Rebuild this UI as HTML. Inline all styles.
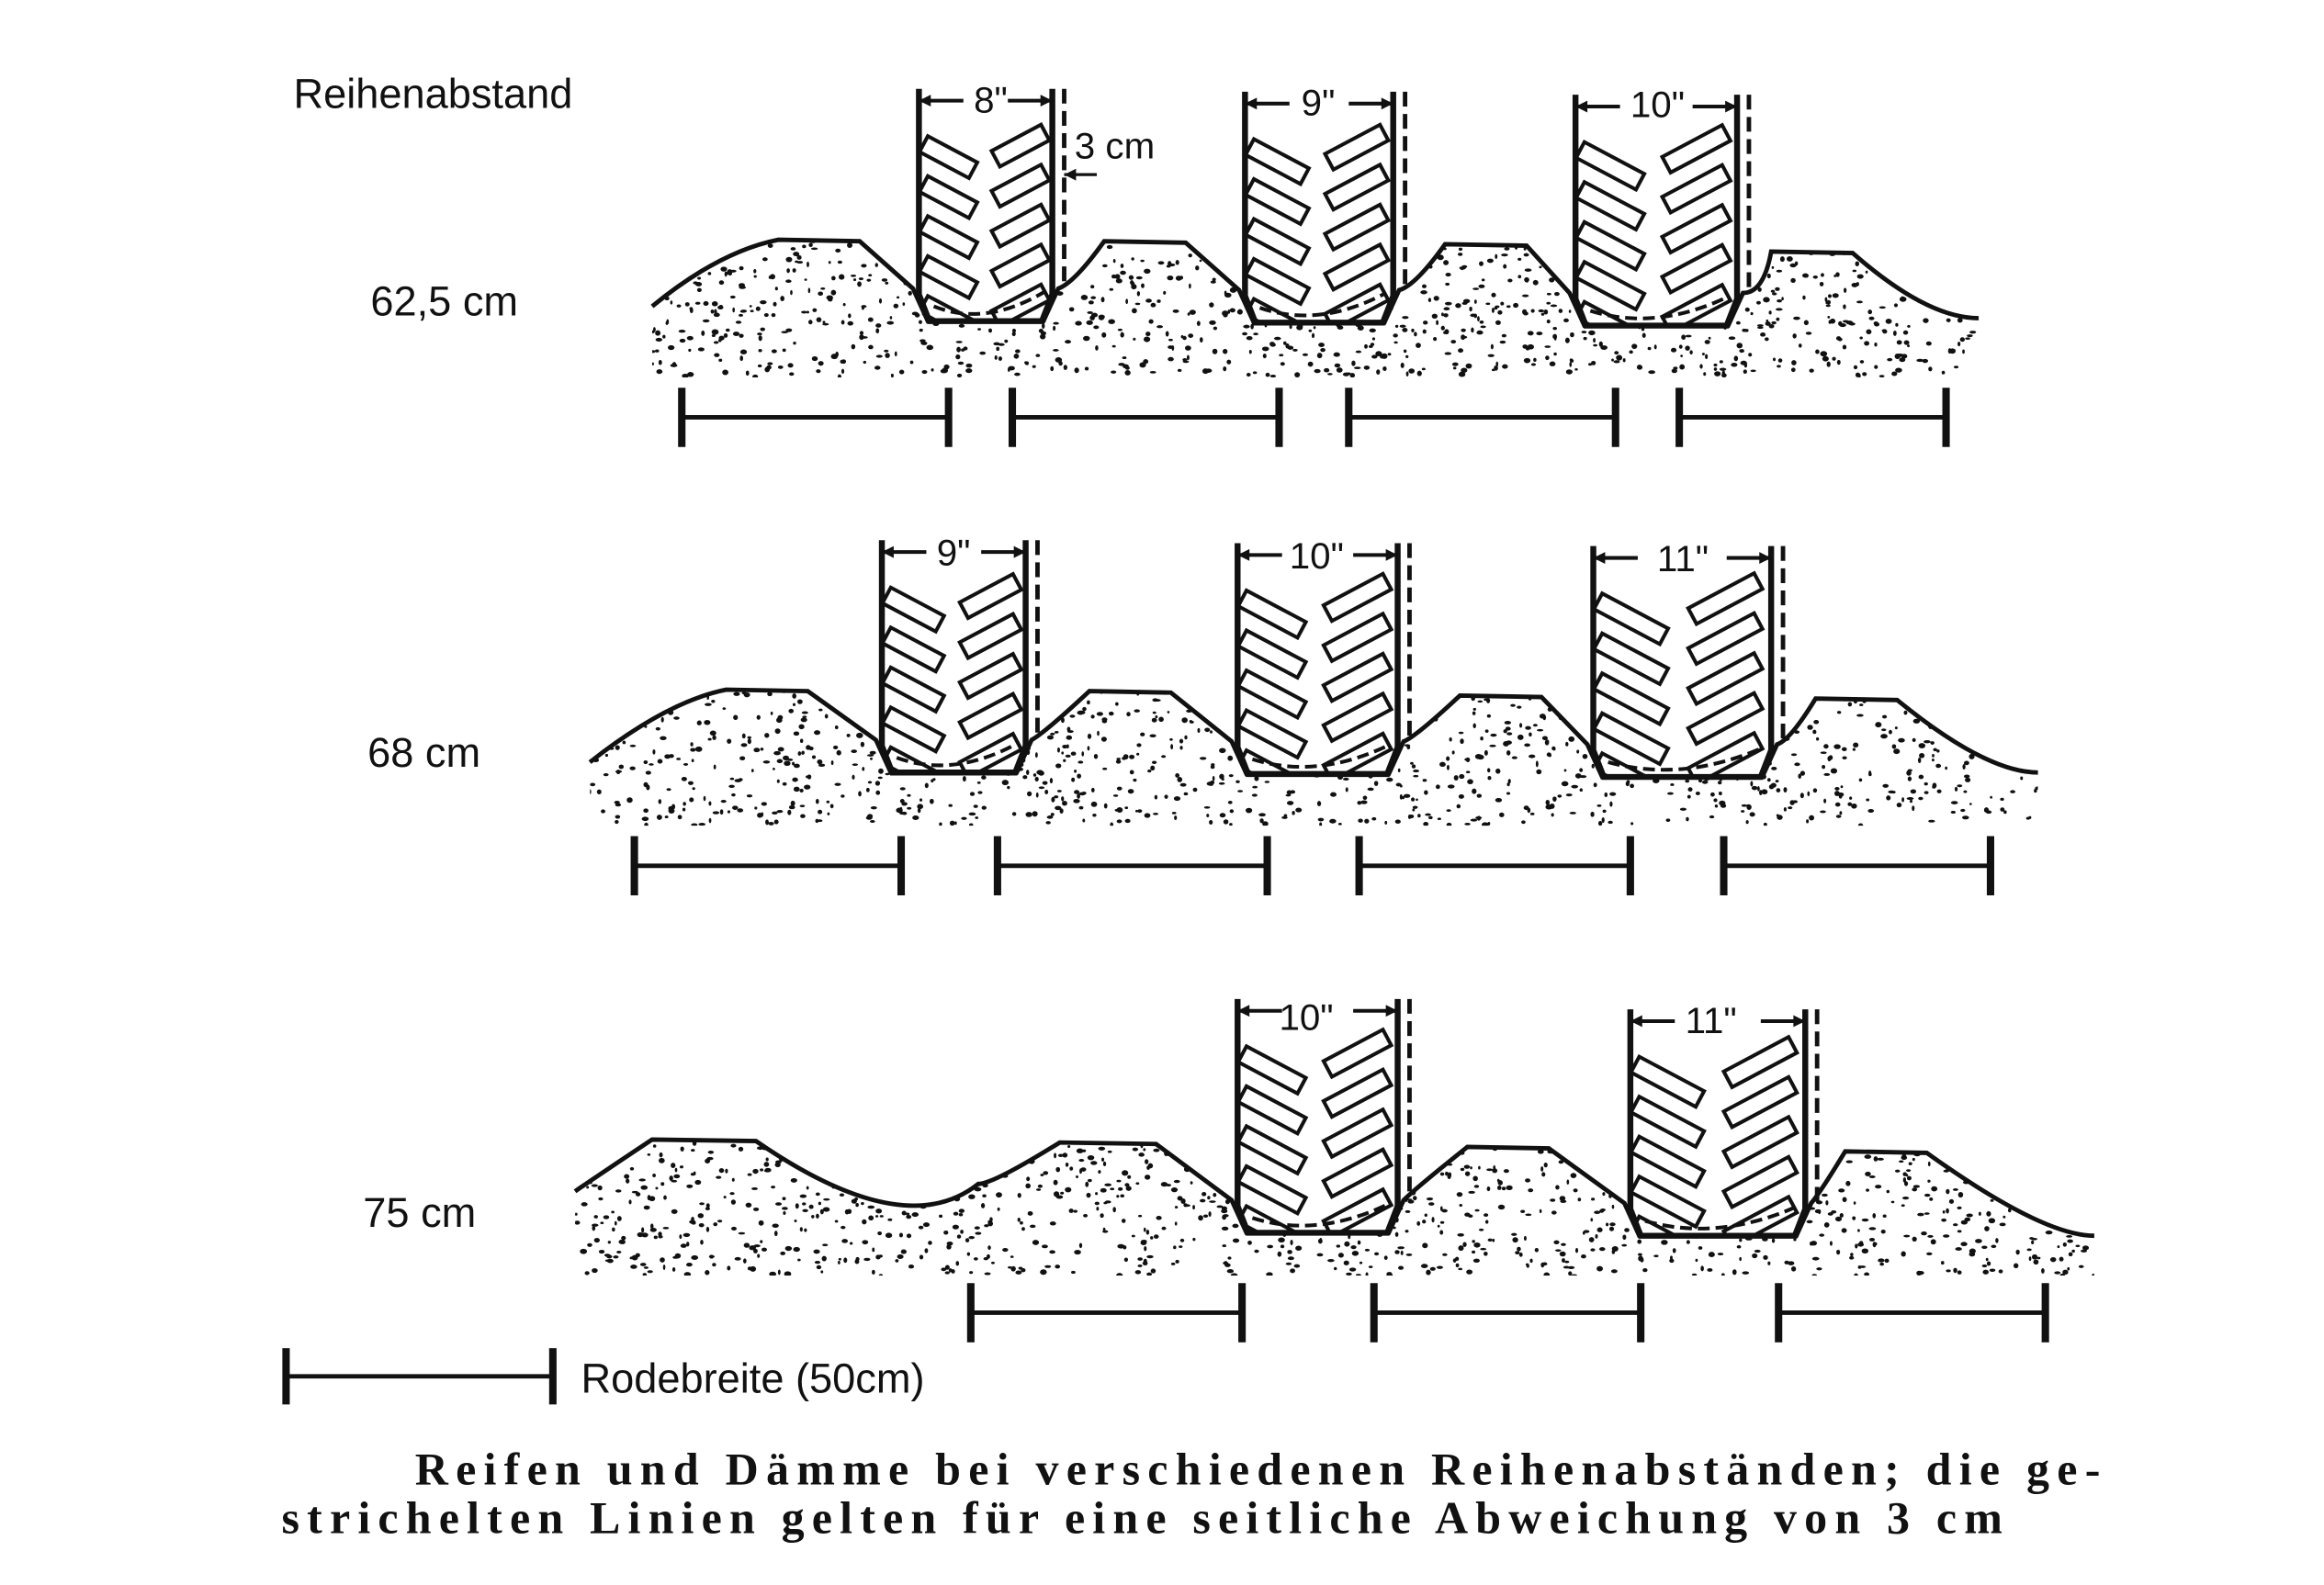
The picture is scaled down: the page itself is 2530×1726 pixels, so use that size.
<!DOCTYPE html>
<html><head><meta charset="utf-8">
<style>
html,body{margin:0;padding:0;background:#fff;}
svg{display:block;}
.lab{font-family:"Liberation Sans",sans-serif;font-size:28px;fill:#111;}
.cap{font-family:"Liberation Serif",serif;font-weight:bold;font-size:31px;fill:#111;letter-spacing:1px;}
.dim{font-family:"Liberation Sans",sans-serif;font-size:25px;fill:#111;}
</style></head><body>
<svg id="s" width="2530" height="1726" viewBox="0 0 1568 1071" preserveAspectRatio="none" xmlns="http://www.w3.org/2000/svg">
<rect width="1568" height="1071" fill="#fff"/>
<g id="g"></g>
<text class="lab" x="198" y="73">Reihenabstand</text>
<text class="lab" x="250" y="213">62,5 cm</text>
<text class="lab" x="248" y="518">68 cm</text>
<text class="lab" x="245" y="829">75 cm</text>
<text class="dim" x="657" y="76">8"</text>
<text class="dim" x="878" y="78">9"</text>
<text class="dim" x="1100" y="79">10"</text>
<text class="dim" x="725" y="107">3 cm</text>
<text class="dim" x="632" y="382">9"</text>
<text class="dim" x="870" y="384">10"</text>
<text class="dim" x="1118" y="386">11"</text>
<text class="dim" x="863" y="696">10"</text>
<text class="dim" x="1137" y="698">11"</text>
<line x1="193" y1="930" x2="373" y2="930" stroke="#111" stroke-width="3"/>
<line x1="193" y1="911" x2="193" y2="949" stroke="#111" stroke-width="5"/>
<line x1="373" y1="911" x2="373" y2="949" stroke="#111" stroke-width="5"/>
<text class="lab" x="392" y="941">Rodebreite (50cm)</text>
<text class="cap" x="280" y="1003" textLength="1138" lengthAdjust="spacing">Reifen und Dämme bei verschiedenen Reihenabständen; die ge-</text>
<text class="cap" x="190" y="1036" textLength="1162" lengthAdjust="spacing">strichelten Linien gelten für eine seitliche Abweichung von 3 cm</text>
</svg>
<script>
var g=document.getElementById('g'),NS='http://www.w3.org/2000/svg';
function el(t,a,p){var e=document.createElementNS(NS,t);for(var k in a)e.setAttribute(k,a[k]);(p||g).appendChild(e);return e;}
var seed=7;function rnd(){seed=(seed*16807)%2147483647;return seed/2147483647;}
var rows=[
 {x0:440,y0:207,xe:1335,ye:215,base:255,humps:[[470,525,580,615],[715,745,800,835],[945,975,1030,1058],[1180,1195,1250,1335]],
  tires:[[620,710,60,217],[840,940,62,218],[1063,1172,64,220]],bars:[[460,640],[683,863],[910,1090],[1133,1313]],by:282},
 {x0:398,y0:515,xe:1375,ye:522,base:558,humps:[[430,490,545,593],[695,735,790,832],[945,985,1040,1072],[1198,1225,1280,1375]],
  tires:[[595,692,365,522],[835,943,367,523],[1075,1195,369,525]],bars:[[428,608],[673,855],[917,1100],[1163,1343]],by:585},
 {x0:388,y0:805,xe:1413,ye:835,base:862,humps:[[388,440,510,560],[660,715,780,832],[945,990,1045,1095],[1218,1245,1300,1413]],
  tires:[[835,943,675,833],[1100,1218,682,835]],bars:[[655,838],[927,1107],[1200,1380]],by:887}
];
var tc=0;
rows.forEach(function(r,ri){
 var hs=r.humps, ts=r.tires;
 var hy=[ [162,163,165,170,170],[466,467,470,472],[770,772,775,778] ][ri];
 var items=[];
 hs.forEach(function(h,i){items.push({k:'h',x:h,y:hy[i],i:i});});
 ts.forEach(function(t){items.push({k:'t',x:t});});
 if(ri==2)items.push({k:'v'});
 items.sort(function(a,b){return (a.k=='v'?600:a.x[0])-(b.k=='v'?600:b.x[0]);});
 var d='M'+r.x0+' '+r.y0;
 items.forEach(function(it){
  if(it.k=='h'){var y=it.y;
   if(it.i==0 && ri<2) d+=' Q'+(it.x[1]-40)+' '+(y+8)+' '+it.x[1]+' '+y+' L'+it.x[2]+' '+(y+1);
   else d+=' Q'+(it.x[0]+10)+' '+(y+28)+' '+it.x[1]+' '+y+' L'+it.x[2]+' '+(y+1);}
  else if(it.k=='t'){var t=it.x;d+=' L'+(t[0]-4)+' '+(t[3]-22)+' L'+(t[0]+6)+' '+t[3]+' L'+(t[1]-6)+' '+t[3]+' L'+(t[1]+4)+' '+(t[3]-22);}
  else {d+=' Q610 840 660 800';}
 });
 d+=' Q'+(r.xe-35)+' '+r.ye+' '+r.xe+' '+r.ye;
 var fill=d+' L'+r.xe+' '+r.base+' L'+r.x0+' '+r.base+' Z';
 var cid='c'+ri;
 var cp=el('clipPath',{id:cid});el('path',{d:fill},cp);
 var dg=el('g',{'clip-path':'url(#'+cid+')'});
 var ylo=(ri==2)?760:140+ri*305;
 for(var i=0;i<1400;i++){var x=r.x0+rnd()*(r.xe-r.x0),y=ylo+rnd()*(r.base-ylo);
  el('ellipse',{cx:x,cy:y,rx:0.8+rnd()*1.6,ry:0.8+rnd()*1.1,fill:'#111'},dg);}
 el('path',{d:d,fill:'none',stroke:'#111','stroke-width':3});
 ts.forEach(function(t){var a=t[0],b=t[1],top=t[2],bot=t[3];
  var outline='M'+a+' '+top+' L'+a+' '+(bot-18)+' L'+(a+7)+' '+bot+' L'+(b-7)+' '+bot+' L'+b+' '+(bot-18)+' L'+b+' '+top;
  el('path',{d:outline+' Z',fill:'#fff',stroke:'none'});
  var id='t'+(tc++);var cp2=el('clipPath',{id:id});el('path',{d:outline+' Z'},cp2);
  var tg=el('g',{'clip-path':'url(#'+id+')'});
  var w=b-a,m=(a+b)/2,bw=w*0.42,bh=12;
  for(var k=0;k<5;k++){var y=top+32+k*27;
   el('rect',{x:a+6,y:y,width:bw,height:bh,transform:'rotate(28 '+(a+6)+' '+y+')',fill:'#fff',stroke:'#111','stroke-width':2.5},tg);
   el('rect',{x:m+4,y:y+10,width:bw,height:bh,transform:'rotate(-28 '+(m+4)+' '+(y+10)+')',fill:'#fff',stroke:'#111','stroke-width':2.5},tg);}
  el('path',{d:outline,fill:'none',stroke:'#111','stroke-width':4});
  el('line',{x1:b+8,y1:top,x2:b+8,y2:bot-22,stroke:'#111','stroke-width':3,'stroke-dasharray':'10 5'});
  el('path',{d:'M'+(a+10)+' '+(bot-10)+' Q'+m+' '+(bot+4)+' '+(b-5)+' '+(bot-20),fill:'none',stroke:'#111','stroke-width':2.5,'stroke-dasharray':'8 4'});
  el('line',{x1:a,y1:top+8,x2:a+30,y2:top+8,stroke:'#111','stroke-width':2.5});
  el('line',{x1:b-30,y1:top+8,x2:b,y2:top+8,stroke:'#111','stroke-width':2.5});
  el('path',{d:'M'+a+' '+(top+8)+' l8 -4 l0 8 z',fill:'#111'});
  el('path',{d:'M'+b+' '+(top+8)+' l-8 -4 l0 8 z',fill:'#111'});
 });
 r.bars.forEach(function(bb){
  el('line',{x1:bb[0],y1:r.by,x2:bb[1],y2:r.by,stroke:'#111','stroke-width':3});
  el('line',{x1:bb[0],y1:r.by-20,x2:bb[0],y2:r.by+20,stroke:'#111','stroke-width':5});
  el('line',{x1:bb[1],y1:r.by-20,x2:bb[1],y2:r.by+20,stroke:'#111','stroke-width':5});
 });
});
el('line',{x1:740,y1:118,x2:718,y2:118,stroke:'#111','stroke-width':2});
el('path',{d:'M718 118 l8 -4 l0 8 z',fill:'#111'});
</script>
</body></html>
